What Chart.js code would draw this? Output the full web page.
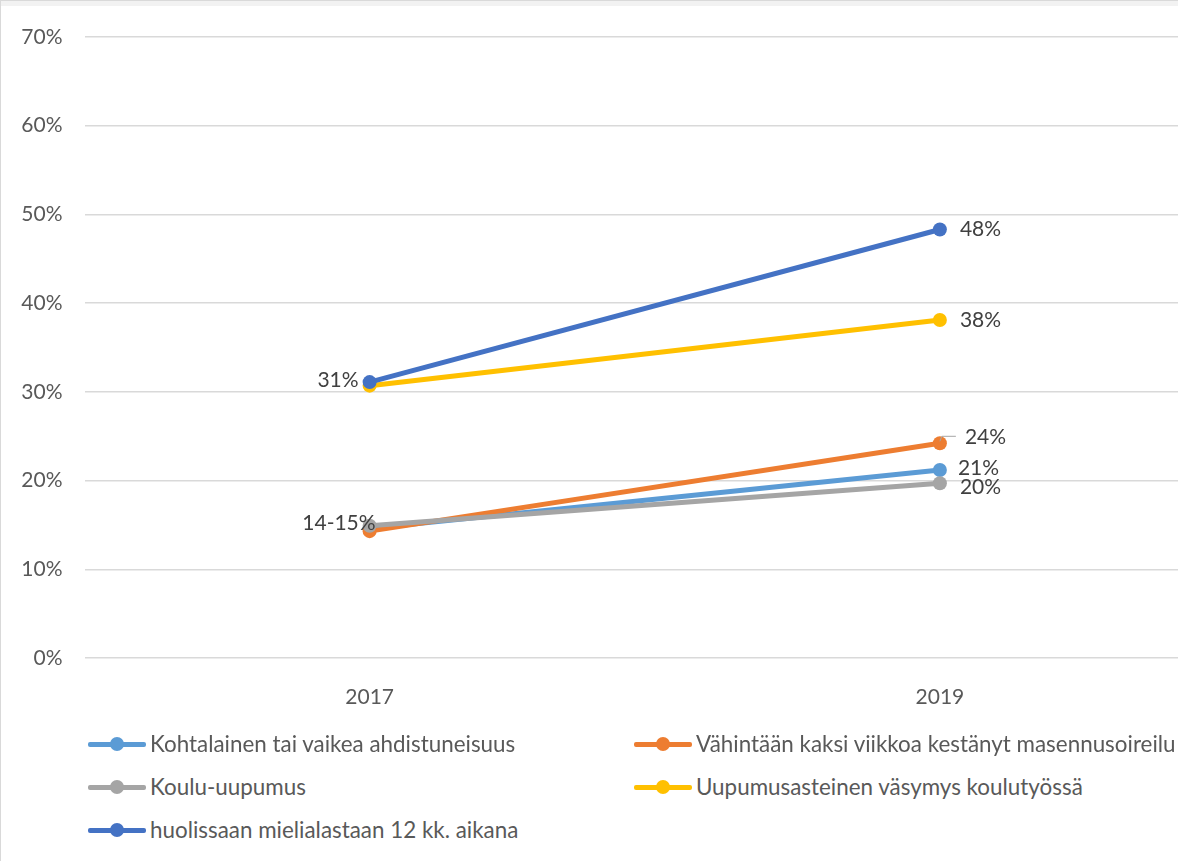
<!DOCTYPE html>
<html>
<head>
<meta charset="utf-8">
<script src="https://cdn.jsdelivr.net/npm/chart.js@4"></script>
<style>
  html, body { margin: 0; padding: 0; background: #fff; overflow: hidden; }
  body { width: 1178px; height: 861px; position: relative; }
  #frame { position: absolute; left: 0; top: 0; width: 1178px; height: 861px; border-top: 1px solid #d9d9d9; border-left: 1px solid #d9d9d9; box-sizing: border-box; }
  #topband { position: absolute; left: 0; top: 0; width: 1178px; height: 6px; background: #f2f2f2; }
  #wrap { position: absolute; left: 0; top: 0; width: 1232px; height: 740px; }
  #legend { position: absolute; left: 0; top: 0; font-family: Lato, "Open Sans", sans-serif; font-size: 22.4px; color: #595959; }
  .item { position: absolute; display: flex; align-items: center; white-space: nowrap; }
  .sym { position: relative; width: 58px; height: 14px; margin-right: 4px; }
  .sym .ln { position: absolute; left: 0; right: 0; top: 5px; height: 5px; border-radius: 2px; }
  .sym .dot { position: absolute; left: 22px; top: 0; width: 14px; height: 14px; border-radius: 50%; }
</style>
</head>
<body>
<div id="topband"></div>
<div id="frame"></div>
<div id="wrap"><canvas id="chart"></canvas></div>
<div id="legend"></div>
<script>
const years = ["2017", "2019"];
const seriesNames = [
    "Kohtalainen tai vaikea ahdistuneisuus",
    "Vähintään kaksi viikkoa kestänyt masennusoireilu",
    "Koulu-uupumus",
    "Uupumusasteinen väsymys koulutyössä",
    "huolissaan mielialastaan 12 kk. aikana"
];
const ahdistus = [0.146, 0.212];
const masennus = [0.143, 0.242];
const uupumus = [0.149, 0.197];
const vasymys = [0.307, 0.381];
const huolissaan = [0.311, 0.483];
const colors = ["#5b9bd5", "#ed7d31", "#a5a5a5", "#ffc000", "#4472c4"];
const yTicks = [0, 0.1, 0.2, 0.3, 0.4, 0.5, 0.6, 0.7];

// labels beside points: [series, point, text, side]
const pointLabels = [
    [4, 0, "31%", "left"],
    [2, 0, "14-15%", "left"],
    [4, 1, "48%", "right"],
    [3, 1, "38%", "right"],
    [1, 1, "24%", "right"],
    [0, 1, "21%", "right"],
    [2, 1, "20%", "right"]
];

const allSeries = [ahdistus, masennus, uupumus, vasymys, huolissaan];

const labelPlugin = {
    id: "pointLabels",
    afterDatasetsDraw(chart) {
        const ctx = chart.ctx;
        ctx.save();
        ctx.font = "21px Lato, 'Open Sans', sans-serif";
        ctx.fillStyle = "#404040";
        ctx.textBaseline = "middle";
        pointLabels.forEach(([s, i, txt, side]) => {
            const el = chart.getDatasetMeta(s).data[i];
            let x = el.x, y = el.y;
            if (side === "left") {
                ctx.textAlign = "right";
                if (txt === "14-15%") ctx.fillText(txt, x + 6, y - 3);
                else ctx.fillText(txt, x - 11, y - 2);
            } else {
                ctx.textAlign = "left";
                let dx = 20, dy = 0;
                if (txt === "24%") {
                    dx = 25; dy = -6;
                    ctx.strokeStyle = "#a6a6a6";
                    ctx.lineWidth = 1;
                    ctx.beginPath();
                    ctx.moveTo(x, y - 2);
                    ctx.lineTo(x + 2, y - 7);
                    ctx.lineTo(x + 16, y - 7);
                    ctx.stroke();
                }
                if (txt === "21%") { dx = 18; dy = -2; }
                if (txt === "20%") dy = 4;
                ctx.fillText(txt, x + dx, y + dy);
            }
        });
        ctx.restore();
    }
};

window.onload = () => {
    const ctx = document.getElementById("chart");
    const datasets = allSeries.map((d, i) => ({
        label: seriesNames[i],
        data: d,
        borderColor: colors[i],
        backgroundColor: colors[i],
        borderWidth: 5,
        pointRadius: 7,
        pointHoverRadius: 7,
        pointBorderWidth: 0,
        order: 5 - i
    }));

    new Chart(ctx, {
        type: "line",
        data: { labels: years, datasets: datasets },
        options: {
            responsive: true,
            maintainAspectRatio: false,
            animation: false,
            layout: { padding: { left: 0, top: 37, right: 0, bottom: 0 } },
            plugins: { legend: { display: false }, tooltip: { enabled: false } },
            scales: {
                x: {
                    offset: true,
                    grid: { display: false },
                    border: { display: false },
                    afterFit: (axis) => { axis.height = 82; },
                    ticks: { color: "#595959", font: { family: "Lato", size: 21 }, padding: 19 }
                },
                y: {
                    min: 0,
                    max: 0.7,
                    afterBuildTicks: (axis) => { axis.ticks = yTicks.map(v => ({ value: v })); },
                    afterFit: (axis) => { axis.width = 84.5; },
                    grid: { color: "#d9d9d9", lineWidth: 1.5, drawTicks: false },
                    border: { display: false },
                    ticks: {
                        color: "#595959",
                        font: { family: "Lato", size: 21 },
                        padding: 22,
                        callback: (v) => Math.round(v * 100) + "%"
                    }
                }
            }
        },
        plugins: [labelPlugin]
    });

    // legend in two columns
    const legend = document.getElementById("legend");
    const pos = [[88, 744], [634, 744], [88, 787], [634, 787], [88, 830]];
    seriesNames.forEach((name, i) => {
        const it = document.createElement("div");
        it.className = "item";
        it.style.left = pos[i][0] + "px";
        it.style.top = (pos[i][1] - 14) + "px";
        it.innerHTML = '<span class="sym"><span class="ln" style="background:' + colors[i] +
            '"></span><span class="dot" style="background:' + colors[i] + '"></span></span>' +
            '<span>' + name + '</span>';
        legend.appendChild(it);
    });
};
</script>
</body>
</html>
